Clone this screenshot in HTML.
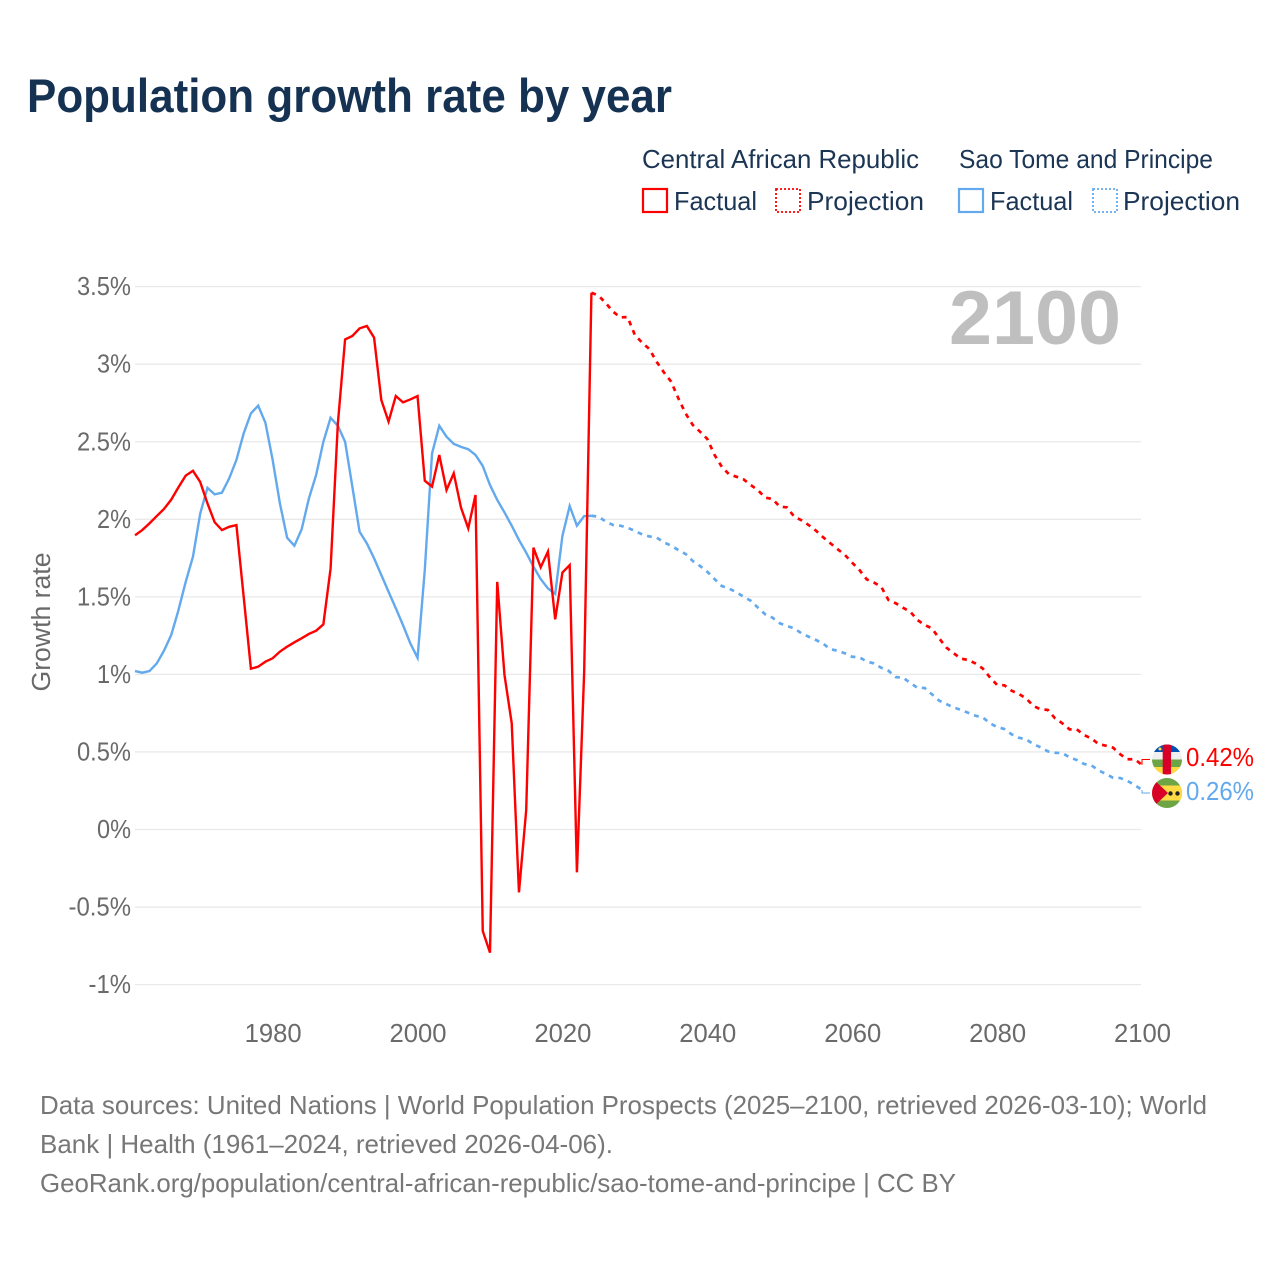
<!DOCTYPE html>
<html lang="en">
<head>
<meta charset="utf-8">
<title>Population growth rate by year</title>
<style>
html,body{margin:0;padding:0;background:#fff;width:1280px;height:1280px;overflow:hidden}
svg{display:block}
text{font-family:"Liberation Sans",sans-serif}
</style>
</head>
<body>
<svg id="chart" xmlns="http://www.w3.org/2000/svg" width="1280" height="1280" viewBox="0 0 1280 1280">
  <rect width="1280" height="1280" fill="#ffffff"/>
  <text x="27" y="112" font-size="47" font-weight="700" fill="#163253" textLength="645" lengthAdjust="spacingAndGlyphs">Population growth rate by year</text>

  <g font-size="26" fill="#1b3554">
    <text x="642" y="168" textLength="277" lengthAdjust="spacingAndGlyphs">Central African Republic</text>
    <text x="959" y="168" textLength="254" lengthAdjust="spacingAndGlyphs">Sao Tome and Principe</text>
    <rect x="643" y="189" width="24" height="23" fill="none" stroke="#ff0000" stroke-width="2.2"/>
    <text x="674" y="210" textLength="83" lengthAdjust="spacingAndGlyphs">Factual</text>
    <rect x="776" y="189" width="24" height="23" fill="none" stroke="#ff0000" stroke-width="1.8" stroke-dasharray="2 2"/>
    <text x="807" y="210" textLength="117" lengthAdjust="spacingAndGlyphs">Projection</text>
    <rect x="959" y="189" width="24" height="23" fill="none" stroke="#63a9ee" stroke-width="2.2"/>
    <text x="990" y="210" textLength="83" lengthAdjust="spacingAndGlyphs">Factual</text>
    <rect x="1093" y="189" width="24" height="23" fill="none" stroke="#63a9ee" stroke-width="1.8" stroke-dasharray="2 2"/>
    <text x="1123" y="210" textLength="117" lengthAdjust="spacingAndGlyphs">Projection</text>
  </g>

  <g id="grid"></g>
  <g id="yticks"></g>
  <g id="xticks"></g>

  <text transform="translate(50,622) rotate(-90)" text-anchor="middle" font-size="25.5" fill="#6a6a6a" textLength="139" lengthAdjust="spacingAndGlyphs">Growth rate</text>
  <text x="949" y="344" font-size="76" font-weight="700" fill="#bfbfbf" textLength="172" lengthAdjust="spacingAndGlyphs">2100</text>

  <g id="series"></g>

  <defs>
    <clipPath id="clip-car"><circle cx="1167" cy="759.5" r="15"/></clipPath>
    <clipPath id="clip-stp"><circle cx="1167" cy="793" r="15"/></clipPath>
  </defs>
  <g clip-path="url(#clip-car)">
    <rect x="1152" y="744" width="30" height="8" fill="#0052b4"/>
    <rect x="1152" y="752" width="30" height="7.5" fill="#f0f0f0"/>
    <rect x="1152" y="759.5" width="30" height="7.5" fill="#6da544"/>
    <rect x="1152" y="767" width="30" height="8" fill="#ffda44"/>
    <rect x="1162.7" y="744" width="8.3" height="31" fill="#d80027"/>
    <circle cx="1160" cy="749" r="1.5" fill="#ffda44"/>
  </g>
  <g clip-path="url(#clip-stp)">
    <rect x="1152" y="778" width="30" height="30" fill="#6da544"/>
    <rect x="1152" y="785.5" width="30" height="15" fill="#ffda44"/>
    <polygon points="1152,778 1168,793 1152,808" fill="#d80027"/>
    <circle cx="1170.5" cy="793.5" r="2.2" fill="#222"/>
    <circle cx="1177.5" cy="793.5" r="2.2" fill="#222"/>
  </g>

  <text x="1186" y="766" font-size="25.5" fill="#ff0000" textLength="68" lengthAdjust="spacingAndGlyphs">0.42%</text>
  <text x="1186" y="800" font-size="25.5" fill="#63a9ee" textLength="68" lengthAdjust="spacingAndGlyphs">0.26%</text>

  <g font-size="26" fill="#777777">
    <text x="40" y="1114" textLength="1167" lengthAdjust="spacingAndGlyphs">Data sources: United Nations | World Population Prospects (2025–2100, retrieved 2026-03-10); World</text>
    <text x="40" y="1153" textLength="573" lengthAdjust="spacingAndGlyphs">Bank | Health (1961–2024, retrieved 2026-04-06).</text>
    <text x="40" y="1192" textLength="916" lengthAdjust="spacingAndGlyphs">GeoRank.org/population/central-african-republic/sao-tome-and-principe | CC BY</text>
  </g>
</svg>
<script>
const factualStartYear = 1961;
const projectionStartYear = 2024;
const yTickValues = [3.5, 3, 2.5, 2, 1.5, 1, 0.5, 0, -0.5, -1];
const yTickLabels = ["3.5%", "3%", "2.5%", "2%", "1.5%", "1%", "0.5%", "0%", "-0.5%", "-1%"];
const xTickYears = [1980, 2000, 2020, 2040, 2060, 2080, 2100];

const carFactual = [1.90,1.934,1.977,2.024,2.07,2.13,2.21,2.285,2.316,2.244,2.106,1.984,1.934,1.955,1.966,1.504,1.04,1.053,1.085,1.107,1.15,1.182,1.21,1.236,1.264,1.285,1.326,1.687,2.62,3.163,3.185,3.234,3.25,3.175,2.772,2.633,2.798,2.757,2.776,2.798,2.252,2.214,2.418,2.192,2.30,2.078,1.945,2.16,-0.651,-0.791,1.60,1.0,0.688,-0.402,0.129,1.82,1.694,1.795,1.358,1.66,1.708,-0.273,1.02,3.464];
const carProjection = [3.464,3.445,3.396,3.342,3.305,3.307,3.191,3.142,3.101,3.019,2.951,2.891,2.783,2.686,2.611,2.568,2.521,2.418,2.342,2.293,2.278,2.261,2.224,2.19,2.143,2.134,2.085,2.08,2.02,1.997,1.966,1.93,1.887,1.848,1.81,1.773,1.723,1.676,1.616,1.595,1.569,1.483,1.462,1.433,1.408,1.354,1.322,1.30,1.236,1.176,1.14,1.105,1.096,1.074,1.042,0.985,0.935,0.933,0.898,0.877,0.849,0.80,0.778,0.774,0.72,0.688,0.649,0.649,0.612,0.591,0.554,0.544,0.531,0.488,0.456,0.456,0.42];
const stpFactual = [1.025,1.014,1.025,1.074,1.156,1.257,1.418,1.60,1.762,2.04,2.206,2.164,2.175,2.267,2.386,2.557,2.686,2.736,2.626,2.386,2.106,1.884,1.833,1.938,2.137,2.289,2.503,2.658,2.606,2.503,2.214,1.923,1.848,1.752,1.644,1.536,1.43,1.32,1.204,1.11,1.676,2.428,2.606,2.536,2.49,2.47,2.455,2.418,2.347,2.224,2.128,2.048,1.962,1.87,1.788,1.698,1.618,1.558,1.522,1.897,2.089,1.962,2.024,2.026];
const stpProjection = [2.026,2.02,1.988,1.966,1.962,1.949,1.928,1.906,1.893,1.885,1.855,1.833,1.805,1.78,1.734,1.702,1.665,1.618,1.573,1.556,1.534,1.504,1.478,1.433,1.39,1.369,1.333,1.315,1.30,1.268,1.246,1.225,1.201,1.165,1.156,1.139,1.117,1.113,1.087,1.074,1.046,1.027,0.986,0.982,0.95,0.916,0.916,0.875,0.834,0.812,0.791,0.774,0.756,0.737,0.727,0.688,0.664,0.651,0.617,0.595,0.585,0.554,0.533,0.507,0.498,0.496,0.469,0.451,0.426,0.417,0.385,0.361,0.337,0.335,0.316,0.29,0.258];

const SVGNS = "http://www.w3.org/2000/svg";
const xAxis = function (year) { return 135 + (year - 1961) * 7.2446; };
const yAxis = function (value) { return 830 - value * 155.1; };

function labelWidth(str) {
  let w = 0;
  for (const c of String(str)) {
    if (c === "%") w += 19.75;
    else if (c === ".") w += 5.75;
    else if (c === "-") w += 8.5;
    else w += 14.25;
  }
  return w;
}

const gridGroup = document.getElementById("grid");
const yTickGroup = document.getElementById("yticks");
const xTickGroup = document.getElementById("xticks");
const seriesGroup = document.getElementById("series");

yTickValues.forEach(function (v, i) {
  const line = document.createElementNS(SVGNS, "line");
  
  
  line.setAttribute("x1", 135);
  line.setAttribute("x2", 1141);
  line.setAttribute("y1", yAxis(v) - 0.5);
  line.setAttribute("y2", yAxis(v) - 0.5);
  line.setAttribute("stroke", "#e9e9e9");
  line.setAttribute("stroke-width", "1.3");
  gridGroup.appendChild(line);

  const label = document.createElementNS(SVGNS, "text");
  
  
  label.setAttribute("x", 131);
  label.setAttribute("y", yAxis(v) + 8);
  label.setAttribute("text-anchor", "end");
  label.setAttribute("font-size", "25.5");
  label.setAttribute("fill", "#6a6a6a");
  label.setAttribute("textLength", labelWidth(yTickLabels[i]));
  label.setAttribute("lengthAdjust", "spacingAndGlyphs");
  label.textContent = yTickLabels[i];
  yTickGroup.appendChild(label);
});

xTickYears.forEach(function (year) {
  const label = document.createElementNS(SVGNS, "text");
  
  
  label.setAttribute("x", xAxis(year) + 0.5);
  label.setAttribute("y", 1042);
  label.setAttribute("text-anchor", "middle");
  label.setAttribute("font-size", "25.5");
  label.setAttribute("fill", "#6a6a6a");
  label.setAttribute("textLength", labelWidth(String(year)));
  label.setAttribute("lengthAdjust", "spacingAndGlyphs");
  label.textContent = String(year);
  xTickGroup.appendChild(label);
});

function linePoints(values, startYear) {
  return values.map(function (v, i) {
    return xAxis(startYear + i).toFixed(2) + "," + yAxis(v).toFixed(2);
  }).join(" ");
}

function drawLine(values, startYear, color, dashed, name) {
  const poly = document.createElementNS(SVGNS, "polyline");
  
  
  poly.setAttribute("points", linePoints(values, startYear));
  poly.setAttribute("fill", "none");
  poly.setAttribute("stroke", color);
  poly.setAttribute("stroke-width", dashed ? "2.7" : "2.4");
  poly.setAttribute("stroke-linejoin", "miter");
  if (dashed) poly.setAttribute("stroke-dasharray", "4.8 5.2");
  seriesGroup.appendChild(poly);
}

function drawConnector(lastValue, targetY, color, name) {
  const path = document.createElementNS(SVGNS, "polyline");
  
  
  const x = xAxis(2100);
  const y = yAxis(lastValue);
  path.setAttribute("points", x + "," + y + " " + x + "," + targetY + " 1150," + targetY);
  path.setAttribute("fill", "none");
  path.setAttribute("stroke", color);
  path.setAttribute("stroke-width", "1");
  seriesGroup.appendChild(path);
}

drawLine(stpFactual, factualStartYear, "#63a9ee", false, "line-stp-factual");
drawLine(carFactual, factualStartYear, "#ff0000", false, "line-car-factual");
drawLine(carProjection, projectionStartYear, "#ff0000", true, "line-car-projection");
drawLine(stpProjection, projectionStartYear, "#63a9ee", true, "line-stp-projection");
drawConnector(carProjection[carProjection.length - 1], 759.5, "#ff0000", "connector-car");
drawConnector(stpProjection[stpProjection.length - 1], 793, "#63a9ee", "connector-stp");
</script>
</body>
</html>
